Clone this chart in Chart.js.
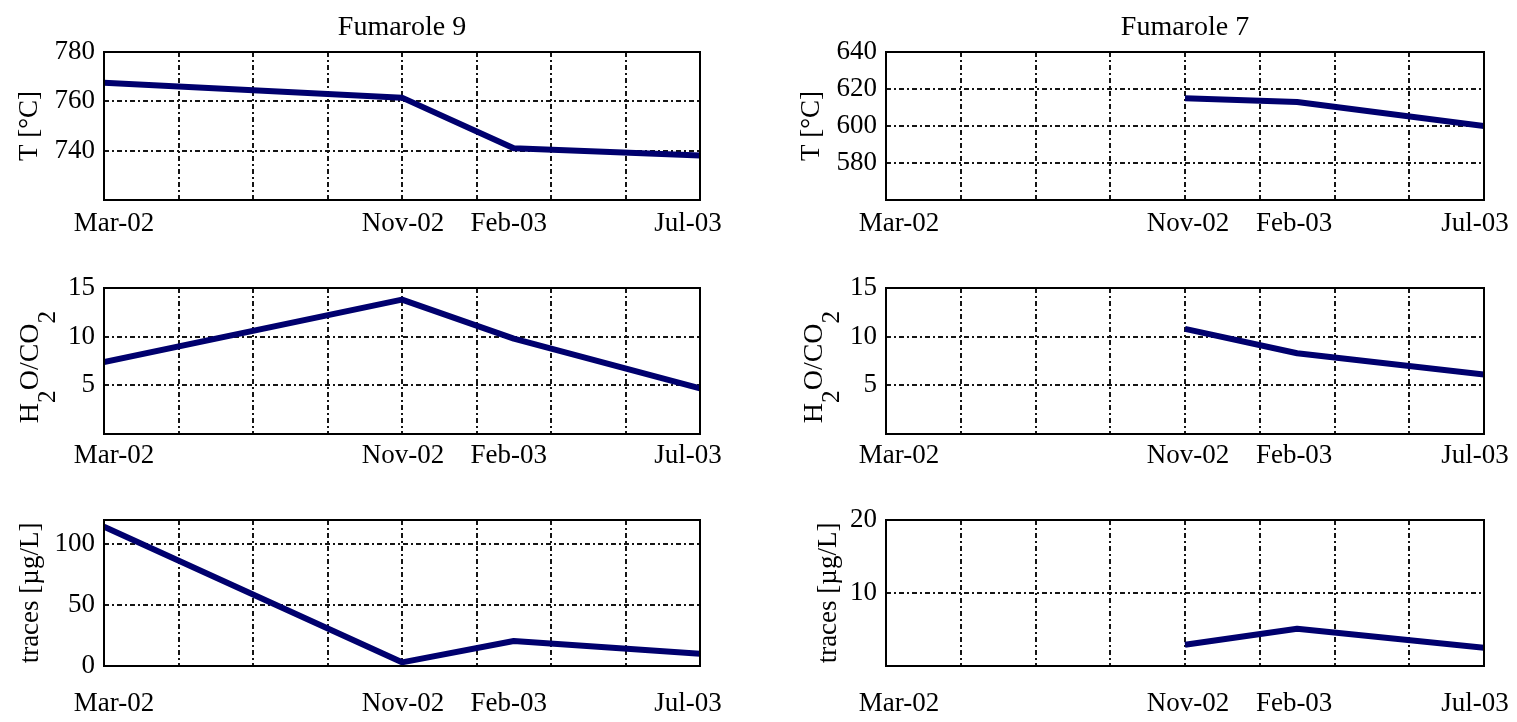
<!DOCTYPE html>
<html><head><meta charset="utf-8">
<script src="https://cdn.jsdelivr.net/npm/chart.js@4.4.0/dist/chart.umd.min.js"></script>
<style>
html,body{margin:0;padding:0;background:#fff;width:1517px;height:722px;overflow:hidden;}
.cell{position:absolute;}
canvas{display:block;}
</style>
</head><body>
<div class="cell" style="left:0px;top:0px"><canvas id="c0" width="740" height="240"></canvas></div>
<div class="cell" style="left:740px;top:0px"><canvas id="c1" width="777" height="240"></canvas></div>
<div class="cell" style="left:0px;top:240px"><canvas id="c2" width="740" height="240"></canvas></div>
<div class="cell" style="left:740px;top:240px"><canvas id="c3" width="777" height="240"></canvas></div>
<div class="cell" style="left:0px;top:480px"><canvas id="c4" width="740" height="242"></canvas></div>
<div class="cell" style="left:740px;top:480px"><canvas id="c5" width="777" height="242"></canvas></div>
<script>
// ---- data (months counted from Mar-2002) ----
const tickLabels = ['Mar-02', 'Nov-02', 'Feb-03', 'Jul-03'];
const tickMonths = [0, 8, 11, 16];
const gridMonths = [0, 2, 4, 6, 8, 10, 12, 14, 16];
const f9Months = [0, 8, 11, 16];
const f7Months = [8, 11, 16];
const f9Temp = [767.5, 761.5, 741, 738];
const f7Temp = [615, 613, 600];
const f9Ratio = [7.4, 13.8, 9.8, 4.7];
const f7Ratio = [10.8, 8.3, 6.1];
const f9Traces = [114.5, 3, 20.5, 10];
const f7Traces = [2.9, 5.1, 2.5];
const titles = ['Fumarole 9', 'Fumarole 7'];
const yLabelT = 'T [°C]';
const yLabelTraces = 'traces [µg/L]';
const yTicksT9 = [740, 760, 780];
const yTicksT7 = [580, 600, 620, 640];
const yTicksRatio = [5, 10, 15];
const yTicksTr9 = [0, 50, 100];
const yTicksTr7 = [10, 20];

// styling
const FONT = '"Liberation Serif", "Times New Roman", Times, serif';
const LINE = '#00006e';
const GRID = '#151515';
const labelNudge = [[10, 1, -5, -12], [13, 3, -3, -9]]; // per column, horizontal label nudge in px

const cols = [
  {left: 0, w: 740, areaLeft: 104, areaRight: 700},
  {left: 740, w: 777, areaLeft: 886, areaRight: 1484}
];
const rows = [
  {top: 0, h: 240, areaTop: 52, areaBottom: 200, labelPad: 8},
  {top: 240, h: 240, areaTop: 288, areaBottom: 434, labelPad: 6},
  {top: 480, h: 242, areaTop: 520, areaBottom: 666, labelPad: 22}
];

const panels = [
  {id: 'c0', col: 0, row: 0, title: titles[0], yLabel: yLabelT, months: f9Months, values: f9Temp, yMin: 720, yMax: 780, yTicks: yTicksT9, yTitleCenter: 30},
  {id: 'c1', col: 1, row: 0, title: titles[1], yLabel: yLabelT, months: f7Months, values: f7Temp, yMin: 560, yMax: 640, yTicks: yTicksT7, yTitleCenter: 812},
  {id: 'c2', col: 0, row: 1, sub: true, months: f9Months, values: f9Ratio, yMin: 0, yMax: 15, yTicks: yTicksRatio, subBase: 38},
  {id: 'c3', col: 1, row: 1, sub: true, months: f7Months, values: f7Ratio, yMin: 0, yMax: 15, yTicks: yTicksRatio, subBase: 822},
  {id: 'c4', col: 0, row: 2, yLabel: yLabelTraces, months: f9Months, values: f9Traces, yMin: 0, yMax: 120, yTicks: yTicksTr9, yTitleCenter: 31},
  {id: 'c5', col: 1, row: 2, yLabel: yLabelTraces, months: f7Months, values: f7Traces, yMin: 0, yMax: 20, yTicks: yTicksTr7, yTitleCenter: 829}
];

const framePlugin = {
  id: 'frame',
  afterDatasetsDraw(chart) {
    const {ctx, chartArea: a} = chart;
    ctx.save();
    ctx.strokeStyle = '#000';
    ctx.lineWidth = 2;
    ctx.setLineDash([]);
    ctx.strokeRect(a.left, a.top, a.right - a.left, a.bottom - a.top);
    ctx.restore();
  }
};

// nudges date labels horizontally like the original layout
const nudgePlugin = {
  id: 'nudge',
  beforeDraw(chart, args, opts) {
    const s = chart.scales.x;
    if (!s || !opts || !opts.offsets) return;
    const items = s.getLabelItems();
    if (items._nudged) return;
    items.forEach(it => {
      const i = tickLabels.indexOf(it.label);
      if (i >= 0 && it.options && it.options.translation) {
        it.options.translation = [it.options.translation[0] + opts.offsets[i], it.options.translation[1]];
      }
    });
    items._nudged = true;
  }
};

// y label with real subscripts: H2O/CO2
const subLabelPlugin = {
  id: 'subLabel',
  afterDraw(chart, args, opts) {
    if (!opts || !opts.display) return;
    const ctx = chart.ctx;
    const size = opts.size;
    const parts = [['H', 0], ['2', 1], ['O/CO', 0], ['2', 1]];
    ctx.save();
    let total = 0;
    const widths = parts.map(([t, s]) => {
      ctx.font = (s ? size * 0.9 : size) + 'px ' + FONT;
      const w = ctx.measureText(t).width;
      total += w;
      return w;
    });
    ctx.translate(opts.x, opts.y);
    ctx.rotate(-Math.PI / 2);
    ctx.fillStyle = '#000';
    ctx.textBaseline = 'alphabetic';
    ctx.textAlign = 'left';
    let x = -total / 2;
    parts.forEach(([t, s], i) => {
      ctx.font = (s ? size * 0.9 : size) + 'px ' + FONT;
      ctx.fillText(t, x, s ? size * 0.62 : 0);
      x += widths[i];
    });
    ctx.restore();
  }
};

panels.forEach(p => {
  const c = cols[p.col], r = rows[p.row];
  const yWidth = c.areaLeft - c.left;
  const xHeight = r.top + r.h - r.areaBottom;
  const tickFont = {family: FONT, size: 27, weight: 'normal', lineHeight: 1.2};
  const points = p.months.map((m, i) => ({x: m, y: p.values[i]}));
  new Chart(document.getElementById(p.id), {
    type: 'line',
    data: {
      datasets: [{
        data: points,
        borderColor: LINE,
        borderWidth: 6,
        pointRadius: 0,
        tension: 0,
        fill: false,
        borderCapStyle: 'butt',
        borderJoinStyle: 'round'
      }]
    },
    options: {
      responsive: false,
      animation: false,
      devicePixelRatio: 1,
      layout: {padding: {left: 0, right: c.w - (c.areaRight - c.left), top: p.title ? 0 : (r.areaTop - r.top), bottom: 0}},
      plugins: {
        legend: {display: false},
        tooltip: {enabled: false},
        title: {
          display: !!p.title,
          text: p.title || '',
          fullSize: false,
          color: '#000',
          font: {family: FONT, size: 28, weight: 'normal', lineHeight: 1},
          padding: {top: 14, bottom: 10}
        },
        subLabel: {
          display: !!p.sub,
          size: 28,
          x: (p.subBase || 0) - c.left,
          y: 367 - r.top
        },
        nudge: {offsets: labelNudge[p.col]}
      },
      scales: {
        x: {
          type: 'linear',
          min: 0,
          max: 16,
          afterBuildTicks: s => {
            const vals = gridMonths.concat(tickMonths).filter((v, i, a) => a.indexOf(v) === i).sort((a, b) => a - b);
            s.ticks = vals.map(v => ({value: v}));
          },
          afterFit: s => { s.height = xHeight; s.paddingLeft = 0; s.paddingRight = 0; },
          ticks: {
            autoSkip: false,
            maxRotation: 0,
            minRotation: 0,
            padding: r.labelPad,
            color: '#000',
            font: tickFont,
            callback: v => {
              const i = tickMonths.indexOf(v);
              return i >= 0 ? tickLabels[i] : '';
            }
          },
          grid: {
            drawTicks: false,
            lineWidth: 2,
            color: ctx => (ctx.tick && gridMonths.indexOf(ctx.tick.value) < 0) ? 'rgba(0,0,0,0)' : GRID
          },
          border: {display: false, dash: [5, 3, 2, 3]}
        },
        y: {
          type: 'linear',
          min: p.yMin,
          max: p.yMax,
          afterBuildTicks: s => { s.ticks = p.yTicks.map(v => ({value: v})); },
          afterFit: s => { s.width = yWidth; },
          ticks: {
            padding: 9,
            color: '#000',
            font: tickFont
          },
          grid: {drawTicks: false, lineWidth: 2, color: GRID},
          border: {display: false, dash: [5, 3, 2, 3]},
          title: {
            display: !!p.yLabel,
            text: p.yLabel || '',
            color: '#000',
            font: tickFont,
            padding: {top: p.yLabel ? (p.yTitleCenter - c.left - 16.2) : 0, bottom: 0}
          }
        }
      }
    },
    plugins: [framePlugin, subLabelPlugin, nudgePlugin]
  });
});
</script>
</body></html>
